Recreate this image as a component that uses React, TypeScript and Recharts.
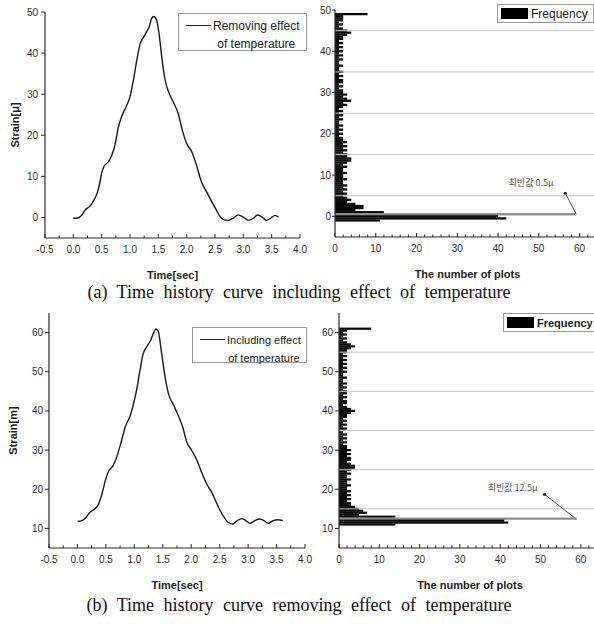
import React from 'react';
import {
  LineChart, Line, XAxis, YAxis, BarChart, Bar, Cell, ReferenceLine, ReferenceDot,
} from 'recharts';

// ---------- Time history curves ----------
const timeA = [0, 0.07, 0.15, 0.22, 0.29, 0.35, 0.41, 0.46, 0.5, 0.54, 0.62, 0.68, 0.74, 0.79, 0.85, 0.93, 1.0, 1.06, 1.12, 1.18, 1.24, 1.29, 1.34, 1.38, 1.42, 1.47, 1.52, 1.56, 1.62, 1.68, 1.76, 1.85, 1.93, 2.0, 2.09, 2.18, 2.26, 2.35, 2.44, 2.52, 2.59, 2.66, 2.74, 2.82, 2.91, 3.0, 3.09, 3.18, 3.25, 3.32, 3.41, 3.48, 3.56, 3.62];
const strainA = [-0.2, -0.2, 0.6, 2.0, 2.7, 3.9, 5.5, 7.9, 10.8, 12.4, 13.6, 15.2, 18.0, 21.7, 24.5, 26.9, 29.4, 33.4, 38.3, 42.3, 43.9, 45.1, 46.4, 48.4, 48.9, 48.0, 43.9, 39.1, 33.4, 30.6, 28.2, 25.3, 20.9, 18.0, 16.0, 12.4, 8.7, 6.3, 3.9, 1.9, 0.2, -0.6, -0.7, -0.2, 0.6, 0.1, -0.7, -0.2, 0.6, 0.2, -0.7, -0.2, 0.5, 0.1];

const timeB = [0, 0.08, 0.15, 0.22, 0.31, 0.37, 0.43, 0.49, 0.54, 0.63, 0.69, 0.76, 0.84, 0.93, 0.98, 1.04, 1.1, 1.15, 1.22, 1.29, 1.35, 1.38, 1.42, 1.48, 1.54, 1.6, 1.69, 1.77, 1.85, 1.92, 2.01, 2.1, 2.18, 2.27, 2.36, 2.44, 2.51, 2.58, 2.65, 2.73, 2.81, 2.89, 2.96, 3.03, 3.12, 3.2, 3.28, 3.35, 3.44, 3.53, 3.61];
const strainB = [11.8, 12.0, 12.8, 14.1, 15.0, 16.2, 18.8, 22.2, 24.4, 26.1, 28.2, 31.6, 35.9, 38.9, 41.5, 45.3, 50.4, 54.3, 56.4, 58.1, 60.3, 60.9, 60.3, 54.7, 48.7, 44.4, 41.5, 38.9, 35.9, 32.1, 29.9, 27.4, 24.4, 21.4, 19.2, 16.7, 14.5, 12.8, 11.5, 11.1, 12.0, 12.5, 12.0, 11.3, 12.0, 12.4, 12.0, 11.3, 12.0, 12.2, 12.0];

// ---------- Histograms (strain bin centre, count) ----------
const binsA = [
  49, 48.5, 48, 47.5, 47, 46.5, 46, 45.5, 45, 44.5,
  44, 43.5, 43, 42.5, 42, 41.5, 41, 40.5, 40, 39.5,
  39, 38.5, 38, 37.5, 37, 36.5, 36, 35.5, 35, 34.5,
  34, 33.5, 33, 32.5, 32, 31.5, 31, 30.5, 30, 29.5,
  29, 28.5, 28, 27.5, 27, 26.5, 26, 25.5, 25, 24.5,
  24, 23.5, 23, 22.5, 22, 21.5, 21, 20.5, 20, 19.5,
  19, 18.5, 18, 17.5, 17, 16.5, 16, 15.5, 15, 14.5,
  14, 13.5, 13, 12.5, 12, 11.5, 11, 10.5, 10, 9.5,
  9, 8.5, 8, 7.5, 7, 6.5, 6, 5.5, 5, 4.5,
  4, 3.5, 3, 2.5, 2, 1.5, 1, 0.5, 0, -0.5,
  -1,
];
const countsA = [
  8, 2, 2, 2, 1, 2, 1, 2, 3, 4,
  3, 2, 2, 1, 2, 1, 2, 1, 2, 1,
  2, 1, 2, 1, 1, 2, 1, 1, 2, 1,
  2, 1, 2, 2, 1, 2, 1, 2, 2, 3,
  2, 3, 4, 2, 3, 2, 1, 2, 1, 2,
  1, 2, 1, 1, 2, 1, 2, 1, 2, 1,
  2, 2, 3, 2, 3, 2, 3, 2, 3, 3,
  4, 4, 3, 2, 3, 2, 2, 3, 2, 2,
  3, 2, 2, 3, 2, 3, 2, 3, 2, 3,
  4, 3, 5, 7, 7, 5, 12, 59, 40, 42,
  11,
];
const binsB = [
  61, 60.5, 60, 59.5, 59, 58.5, 58, 57.5, 57, 56.5,
  56, 55.5, 55, 54.5, 54, 53.5, 53, 52.5, 52, 51.5,
  51, 50.5, 50, 49.5, 49, 48.5, 48, 47.5, 47, 46.5,
  46, 45.5, 45, 44.5, 44, 43.5, 43, 42.5, 42, 41.5,
  41, 40.5, 40, 39.5, 39, 38.5, 38, 37.5, 37, 36.5,
  36, 35.5, 35, 34.5, 34, 33.5, 33, 32.5, 32, 31.5,
  31, 30.5, 30, 29.5, 29, 28.5, 28, 27.5, 27, 26.5,
  26, 25.5, 25, 24.5, 24, 23.5, 23, 22.5, 22, 21.5,
  21, 20.5, 20, 19.5, 19, 18.5, 18, 17.5, 17, 16.5,
  16, 15.5, 15, 14.5, 14, 13.5, 13, 12.5, 12, 11.5,
  11,
];
const countsB = [
  8, 2, 1, 2, 1, 2, 1, 2, 3, 4,
  3, 2, 2, 1, 2, 1, 2, 1, 2, 1,
  2, 1, 2, 1, 1, 2, 1, 1, 2, 1,
  2, 1, 2, 2, 1, 2, 1, 2, 2, 1,
  2, 3, 4, 3, 2, 2, 1, 2, 1, 2,
  1, 2, 1, 1, 2, 1, 2, 1, 2, 1,
  2, 2, 3, 2, 3, 2, 3, 3, 2, 3,
  4, 4, 3, 2, 3, 2, 2, 3, 2, 2,
  3, 2, 2, 3, 2, 3, 2, 3, 2, 3,
  3, 4, 5, 6, 7, 5, 14, 59, 41, 42,
  14,
];
const modeA = 0.5;
const modeB = 12.5;

// ---------- Ticks & labels ----------
const timeTicks = [-0.5, -0.25, 0, 0.25, 0.5, 0.75, 1, 1.25, 1.5, 1.75, 2, 2.25, 2.5, 2.75, 3, 3.25, 3.5, 3.75, 4];
const countTicks = [0, 2, 4, 6, 8, 10, 12, 14, 16, 18, 20, 22, 24, 26, 28, 30, 32, 34, 36, 38, 40, 42, 44, 46, 48, 50, 52, 54, 56, 58, 60, 62, 64];
const strainTicksA = [0, 10, 20, 30, 40, 50];
const strainTicksB = [10, 20, 30, 40, 50, 60];
const gridA = [5, 15, 25, 35, 45];
const gridB = [15, 25, 35, 45, 55];

const captionA = '(a) Time history curve including effect of temperature';
const captionB = '(b) Time history curve removing effect of temperature';

const lineDataA = timeA.map((t, i) => ({ t, s: strainA[i] }));
const lineDataB = timeB.map((t, i) => ({ t, s: strainB[i] }));
const histA = binsA.map((strain, i) => ({ strain, count: countsA[i] }));
const histB = binsB.map((strain, i) => ({ strain, count: countsB[i] }));

const SANS = 'Arial, "Liberation Sans", sans-serif';
const AXIS = '#2a2a2a';

const makeXTick = (majorEvery: number, fmt: (v: number) => string) => (props: any) => {
  const { x, y, payload } = props;
  const v = payload.value as number;
  const r = v / majorEvery;
  const major = Math.abs(r - Math.round(r)) < 1e-6;
  return (
    <g>
      <line x1={x} x2={x} y1={y} y2={y - (major ? 4 : 2.5)} stroke={AXIS} strokeWidth={1} />
      {major && (
        <text x={x} y={y + 15} textAnchor="middle" fontSize={10} fill="#333" fontFamily={SANS}>
          {fmt(v)}
        </text>
      )}
    </g>
  );
};

const timeTick = makeXTick(0.5, (v) => v.toFixed(1));
const countTick = makeXTick(10, (v) => String(v));

const titleStyle = { fontWeight: 'bold', fontSize: 11, fill: '#222', fontFamily: SANS } as any;

// histogram bar drawn with a fixed thickness around the bin centre, so that neighbouring bins touch
const makeHistBar = (thick: number) => (p: any) => {
  const cy = p.y + p.height / 2;
  return <rect x={p.x} y={cy - thick / 2} width={Math.max(p.width, 0)} height={thick} fill={p.fill} />;
};
const histBarA = makeHistBar(2.3);
const histBarB = makeHistBar(2.2);

const ModeText = (text: string) => (p: any) => (
  <text x={p.cx} y={p.cy} textAnchor="middle" dominantBaseline="middle" fontSize={9} fill="#555"
    fontFamily='"Noto Sans CJK KR", sans-serif'>{text}</text>
);

const box = (left: number, top: number, w: number, h: number): React.CSSProperties => ({
  position: 'absolute', left, top, width: w, height: h, border: '1px solid #9a9a9a',
  background: '#fff', boxSizing: 'border-box',
});

const LineLegend = ({ left, top, w, h, l1, l2, fs }: any) => (
  <div style={box(left, top, w, h)}>
    <div style={{ position: 'absolute', left: 7, top: 11, width: 25, height: 0, borderTop: '1.5px solid #222' }} />
    <div style={{ position: 'absolute', left: 34, top: 3, fontFamily: SANS, fontSize: fs, lineHeight: '18px', color: '#222', textAlign: 'center', whiteSpace: 'nowrap' }}>
      {l1}<br />{l2}
    </div>
  </div>
);

const FreqLegend = ({ left, top, w, h, bold }: any) => (
  <div style={box(left, top, w, h)}>
    <div style={{ position: 'absolute', left: 3, top: 3, width: 27, height: 11, background: '#000' }} />
    <div style={{ position: 'absolute', left: 33, top: 1, fontFamily: SANS, fontSize: bold ? 11 : 12, fontWeight: bold ? 'bold' : 'normal', lineHeight: '16px', color: '#222', whiteSpace: 'nowrap' }}>
      Frequency
    </div>
  </div>
);

const caption = (top: number, text: string) => (
  <div style={{ position: 'absolute', left: 0, top, width: 598, textAlign: 'center', fontFamily: '"Liberation Serif", "Times New Roman", serif', fontSize: 18, lineHeight: '20px', wordSpacing: 5, color: '#111', whiteSpace: 'nowrap' }}>
    {text}
  </div>
);

export default function App() {
  return (
    <div style={{ position: 'absolute', left: 0, top: 0, width: 594, height: 624, overflow: 'hidden', background: '#fff' }}>
      {/* Top-left: time history */}
      <div style={{ position: 'absolute', left: 0, top: 0 }}>
        <LineChart width={310} height={290} data={lineDataA} margin={{ top: 12, right: 10, left: 5, bottom: 7 }}>
          <XAxis type="number" dataKey="t" domain={[-0.5, 4]} ticks={timeTicks} interval={0} height={45}
            axisLine={{ stroke: AXIS, strokeWidth: 1.2 }} tickLine={false} tickSize={0} tickMargin={0} tick={timeTick}
            label={{ value: 'Time[sec]', position: 'insideBottom', offset: 4, style: titleStyle }} />
          <YAxis type="number" domain={[-5, 50]} ticks={strainTicksA} interval={0} width={40}
            axisLine={{ stroke: AXIS, strokeWidth: 1.2 }} tickLine={{ stroke: AXIS }} tickSize={4} tickMargin={3}
            tick={{ fontSize: 10, fill: '#333', fontFamily: SANS }}
            label={{ value: 'Strain[μ]', angle: -90, position: 'insideLeft', offset: 10, style: { ...titleStyle, textAnchor: 'middle' } }} />
          <Line type="monotone" dataKey="s" stroke="#1a1a1a" strokeWidth={1.4} dot={false} isAnimationActive={false} />
        </LineChart>
        <LineLegend left={178} top={13} w={129} h={38} l1="Removing effect" l2="of temperature" fs={12} />
      </div>

      {/* Top-right: histogram */}
      <div style={{ position: 'absolute', left: 300, top: 0 }}>
        <BarChart width={305} height={290} data={histA} layout="vertical" barCategoryGap={0} barGap={0}
          margin={{ top: 10, right: 5, left: 5, bottom: 8 }}>
          <XAxis type="number" domain={[0, 65]} ticks={countTicks} interval={0} height={45}
            axisLine={{ stroke: AXIS, strokeWidth: 1.2 }} tickLine={false} tickSize={0} tickMargin={0} tick={countTick}
            label={{ value: 'The number of plots', position: 'insideBottom', offset: 4, style: titleStyle }} />
          <YAxis type="number" dataKey="strain" domain={[-5, 50]} reversed ticks={strainTicksA} interval={0} width={30}
            axisLine={{ stroke: AXIS, strokeWidth: 1.2 }} tickLine={{ stroke: AXIS }} tickSize={3} tickMargin={1}
            tick={{ fontSize: 10, fill: '#333', fontFamily: SANS }} />
          {gridA.map((g) => (
            <ReferenceLine key={g} y={g} stroke="#c4c4c4" strokeWidth={1} />
          ))}
          <Bar dataKey="count" isAnimationActive={false} shape={histBarA}>
            {histA.map((d, i) => (
              <Cell key={i} fill={d.strain === modeA ? '#8c8c8c' : '#0a0a0a'} />
            ))}
          </Bar>
          <ReferenceLine segment={[{ x: 56.5, y: 5.6 }, { x: 59.2, y: modeA }]} stroke="#555" strokeWidth={1} />
          <ReferenceDot x={56.5} y={5.6} r={1.6} fill="#222" stroke="none" />
          <ReferenceDot x={48.1} y={8} r={1} shape={ModeText('최빈값 0.5μ')} />
        </BarChart>
        <FreqLegend left={197} top={4} w={97} h={19} bold={false} />
      </div>

      {caption(282, captionA)}

      {/* Bottom-left: time history */}
      <div style={{ position: 'absolute', left: 0, top: 300 }}>
        <LineChart width={315} height={300} data={lineDataB} margin={{ top: 13, right: 10, left: 9, bottom: 7 }}>
          <XAxis type="number" dataKey="t" domain={[-0.5, 4]} ticks={timeTicks} interval={0} height={45}
            axisLine={{ stroke: AXIS, strokeWidth: 1.2 }} tickLine={false} tickSize={0} tickMargin={0} tick={timeTick}
            label={{ value: 'Time[sec]', position: 'insideBottom', offset: 4, style: titleStyle }} />
          <YAxis type="number" domain={[5, 65]} ticks={strainTicksB} interval={0} width={40}
            axisLine={{ stroke: AXIS, strokeWidth: 1.2 }} tickLine={{ stroke: AXIS }} tickSize={4} tickMargin={2}
            tick={{ fontSize: 10, fill: '#333', fontFamily: SANS }}
            label={{ value: 'Strain[m]', angle: -90, position: 'insideLeft', offset: 4, style: { ...titleStyle, textAnchor: 'middle' } }} />
          <Line type="monotone" dataKey="s" stroke="#1a1a1a" strokeWidth={1.4} dot={false} isAnimationActive={false} />
        </LineChart>
      </div>
      <LineLegend left={192} top={327} w={115} h={36} l1="Including effect" l2="of temperature" fs={11} />

      {/* Bottom-right: histogram */}
      <div style={{ position: 'absolute', left: 300, top: 300 }}>
        <BarChart width={305} height={300} data={histB} layout="vertical" barCategoryGap={0} barGap={0}
          margin={{ top: 13, right: 4, left: 9, bottom: 7 }}>
          <XAxis type="number" domain={[0, 65]} ticks={countTicks} interval={0} height={45}
            axisLine={{ stroke: AXIS, strokeWidth: 1.2 }} tickLine={false} tickSize={0} tickMargin={0} tick={countTick}
            label={{ value: 'The number of plots', position: 'insideBottom', offset: 4, style: titleStyle }} />
          <YAxis type="number" dataKey="strain" domain={[5, 65]} reversed ticks={strainTicksB} interval={0} width={30}
            axisLine={{ stroke: AXIS, strokeWidth: 1.2 }} tickLine={{ stroke: AXIS }} tickSize={4} tickMargin={2}
            tick={{ fontSize: 10, fill: '#333', fontFamily: SANS }} />
          {gridB.map((g) => (
            <ReferenceLine key={g} y={g} stroke="#c4c4c4" strokeWidth={1} />
          ))}
          <Bar dataKey="count" isAnimationActive={false} shape={histBarB}>
            {histB.map((d, i) => (
              <Cell key={i} fill={d.strain === modeB ? '#8c8c8c' : '#0a0a0a'} />
            ))}
          </Bar>
          <ReferenceLine segment={[{ x: 51, y: 18.7 }, { x: 58.7, y: modeB }]} stroke="#555" strokeWidth={1} />
          <ReferenceDot x={51} y={18.7} r={1.6} fill="#222" stroke="none" />
          <ReferenceDot x={43.1} y={20.2} r={1} shape={ModeText('최빈값 12.5μ')} />
        </BarChart>
        <FreqLegend left={203} top={13} w={94} h={19} bold />
      </div>

      {caption(595, captionB)}
    </div>
  );
}
